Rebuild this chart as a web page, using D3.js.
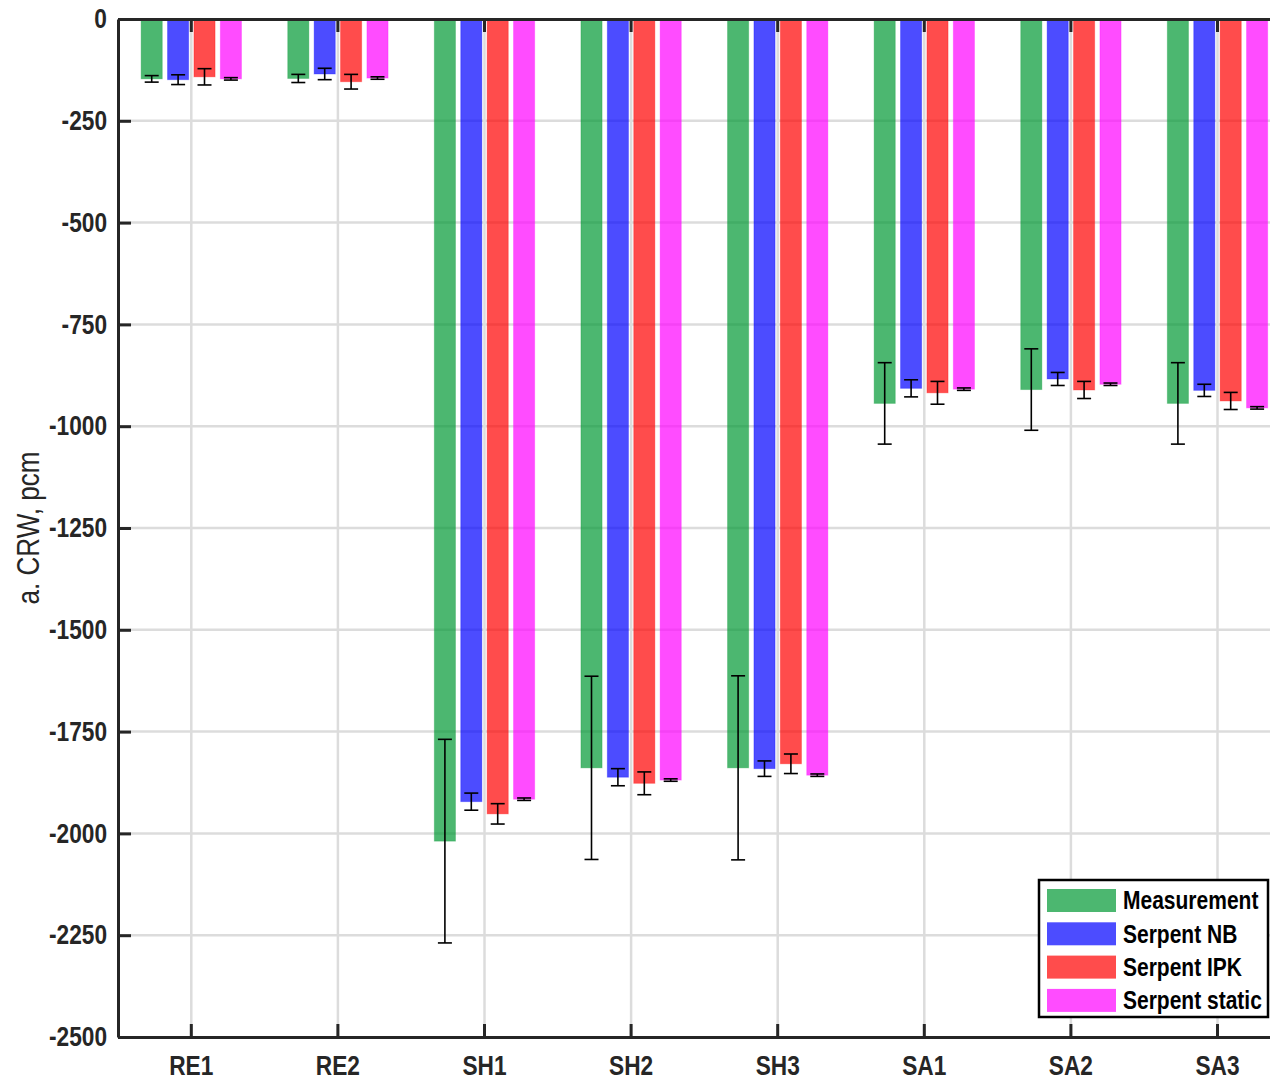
<!DOCTYPE html>
<html>
<head>
<meta charset="utf-8">
<script src="https://cdn.jsdelivr.net/npm/d3@7"></script>
<style>
  body { margin: 0; background: #fff; }
  svg text { font-family: "Liberation Sans", Arial, sans-serif; font-weight: bold; fill: #000; }
</style>
</head>
<body>
<div id="chart"></div>
<script>
// categories and series
var categories = ["RE1", "RE2", "SH1", "SH2", "SH3", "SA1", "SA2", "SA3"];
var series = ["Measurement", "Serpent NB", "Serpent IPK", "Serpent static"];
var colors = ["#009933", "#0000ff", "#ff0000", "#ff00ff"];

// bar values (pcm), one array per series, in category order
var measurement   = [-147, -146, -2019, -1839, -1839, -944, -910, -944];
var serpentNB     = [-149, -135, -1922, -1862, -1841, -907, -884, -912];
var serpentIPK    = [-142, -154, -1952, -1877, -1829, -918, -911, -938];
var serpentStatic = [-147, -145, -1916, -1869, -1857, -909, -897, -955];

// error half-widths
var measurementErr   = [8, 10, 250, 225, 226, 100, 100, 100];
var serpentNBErr     = [12, 14, 21, 21, 19, 21, 16, 15];
var serpentIPKErr    = [20, 18, 25, 28, 24, 28, 21, 21];
var serpentStaticErr = [3, 3, 3, 3, 3, 3, 3, 3];

var yTicks = [0, -250, -500, -750, -1000, -1250, -1500, -1750, -2000, -2250, -2500];

var values = [measurement, serpentNB, serpentIPK, serpentStatic];
var errors = [measurementErr, serpentNBErr, serpentIPKErr, serpentStaticErr];

var width = 1270, height = 1079;
var plotLeft = 118, plotTop = 19, plotBottom = 1037;
var step = 146.6;

var svg = d3.select("#chart").append("svg")
    .attr("width", width)
    .attr("height", height);

var x = d3.scaleBand()
    .domain(categories)
    .range([plotLeft, plotLeft + categories.length * step]);

var xs = d3.scaleBand()
    .domain(series)
    .range([-52.8, 52.8])
    .paddingInner(0.2)
    .paddingOuter(0.1);

var y = d3.scaleLinear()
    .domain([0, -2500])
    .range([plotTop, plotBottom]);

// grid
svg.append("g").selectAll("line")
    .data(yTicks.filter(function (d) { return d !== 0 && d !== -2500; }))
    .enter().append("line")
    .attr("x1", plotLeft).attr("x2", plotLeft + categories.length * step)
    .attr("y1", function (d) { return y(d); })
    .attr("y2", function (d) { return y(d); })
    .style("stroke", "#dcdcdc").style("stroke-width", 2.5);

svg.append("g").selectAll("line")
    .data(categories)
    .enter().append("line")
    .attr("x1", function (d) { return x(d) + x.bandwidth() / 2; })
    .attr("x2", function (d) { return x(d) + x.bandwidth() / 2; })
    .attr("y1", plotTop).attr("y2", plotBottom)
    .style("stroke", "#dcdcdc").style("stroke-width", 2.5);

// build flat rows for bars
var rows = [];
series.forEach(function (s, si) {
    categories.forEach(function (c, ci) {
        rows.push({ cat: c, series: s, si: si, value: values[si][ci], err: errors[si][ci] });
    });
});

function cx(d) {
    return x(d.cat) + x.bandwidth() / 2 + xs(d.series) + xs.bandwidth() / 2;
}

svg.append("g").selectAll("rect")
    .data(rows)
    .enter().append("rect")
    .attr("x", function (d) { return x(d.cat) + x.bandwidth() / 2 + xs(d.series); })
    .attr("width", xs.bandwidth())
    .attr("y", y(0))
    .attr("height", function (d) { return y(d.value) - y(0); })
    .style("fill", function (d) { return colors[d.si]; })
    .style("fill-opacity", 0.7)
    .style("stroke", function (d) { return colors[d.si]; })
    .style("stroke-opacity", 0.3)
    .style("stroke-width", 1);

// error bars
var eb = svg.append("g").selectAll("g")
    .data(rows)
    .enter().append("g")
    .style("stroke", "#000")
    .style("stroke-width", 1.6);

eb.append("line")
    .attr("x1", cx).attr("x2", cx)
    .attr("y1", function (d) { return y(d.value + d.err); })
    .attr("y2", function (d) { return y(d.value - d.err); });

eb.append("line")
    .attr("x1", function (d) { return cx(d) - 7; })
    .attr("x2", function (d) { return cx(d) + 7; })
    .attr("y1", function (d) { return y(d.value + d.err); })
    .attr("y2", function (d) { return y(d.value + d.err); });

eb.append("line")
    .attr("x1", function (d) { return cx(d) - 7; })
    .attr("x2", function (d) { return cx(d) + 7; })
    .attr("y1", function (d) { return y(d.value - d.err); })
    .attr("y2", function (d) { return y(d.value - d.err); });

// axes
var yAxis = d3.axisLeft(y)
    .tickValues(yTicks)
    .tickFormat(function (d) { return String(d); })
    .tickSizeInner(-13)
    .tickSizeOuter(0)
    .tickPadding(11);

var gy = svg.append("g")
    .attr("transform", "translate(" + plotLeft + ",0)")
    .call(yAxis);

var xAxisBottom = d3.axisBottom(x)
    .tickSizeInner(-13)
    .tickSizeOuter(0)
    .tickPadding(19);

var gxb = svg.append("g")
    .attr("transform", "translate(0," + plotBottom + ")")
    .call(xAxisBottom);

var xAxisTop = d3.axisTop(x)
    .tickSizeInner(-13)
    .tickSizeOuter(0)
    .tickFormat("");

var gxt = svg.append("g")
    .attr("transform", "translate(0," + plotTop + ")")
    .call(xAxisTop);

[gy, gxb, gxt].forEach(function (g) {
    g.selectAll("path.domain").style("stroke", "#262626").style("stroke-width", 3);
    g.selectAll(".tick line").style("stroke", "#262626").style("stroke-width", 3);
    g.selectAll("text").style("font-size", "27px").style("fill", "#262626")
        .attr("font-family", null);
});

// y-axis label
svg.append("text")
    .attr("transform", "translate(39," + ((plotTop + plotBottom) / 2) + ") rotate(-90)")
    .attr("text-anchor", "middle")
    .style("font-size", "31px")
    .style("font-weight", "normal")
    .style("fill", "#262626")
    .text("a. CRW, pcm");

// legend
var lg = svg.append("g").attr("transform", "translate(1039,880)");
lg.append("rect")
    .attr("width", 229).attr("height", 137)
    .style("fill", "#fff")
    .style("stroke", "#000")
    .style("stroke-width", 2.5);

var item = lg.selectAll("g.item")
    .data(series)
    .enter().append("g")
    .attr("class", "item")
    .attr("transform", function (d, i) { return "translate(8," + (9 + i * 33.3) + ")"; });

item.append("rect")
    .attr("width", 69).attr("height", 23)
    .style("fill", function (d, i) { return colors[i]; })
    .style("fill-opacity", 0.7);

item.append("text")
    .attr("x", 76)
    .attr("y", 11.5)
    .attr("dy", "0.35em")
    .style("font-size", "25px")
    .text(function (d) { return d; });

// condense all text to mimic a narrow face
svg.selectAll("text").each(function () {
    var w = this.getComputedTextLength();
    if (w > 0) {
        d3.select(this)
            .attr("textLength", w * 0.84)
            .attr("lengthAdjust", "spacingAndGlyphs");
    }
});
</script>
</body>
</html>
